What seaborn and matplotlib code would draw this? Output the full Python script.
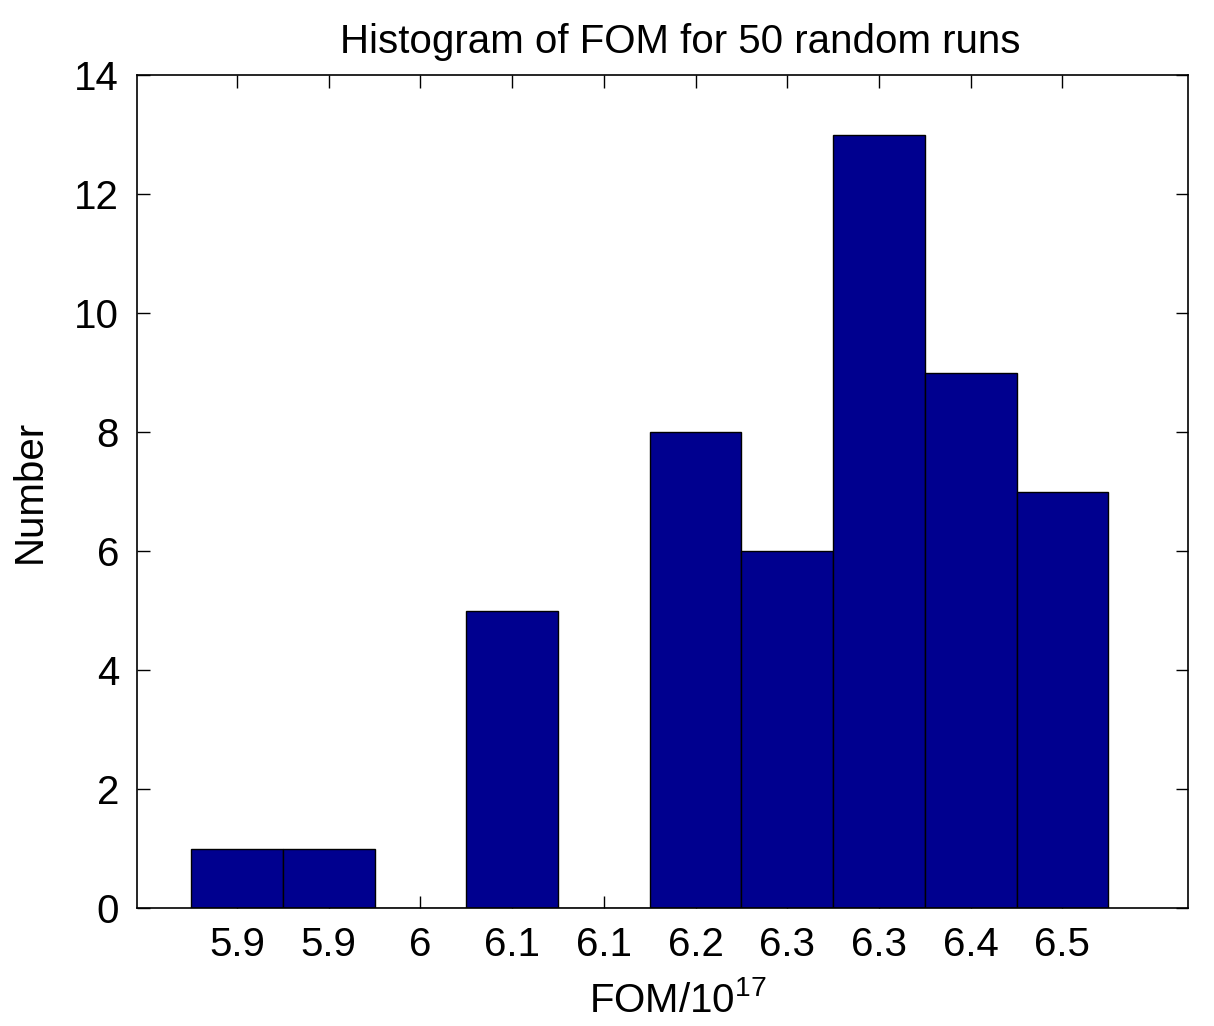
import seaborn as sns
import matplotlib.pyplot as plt
import numpy as np

# histogram bins (index) and counts
bin_index = [0, 1, 2, 3, 4, 5, 6, 7, 8, 9]
counts = [1, 1, 0, 5, 0, 8, 6, 13, 9, 7]
tick_labels = ["5.9", "5.9", "6", "6.1", "6.1", "6.2", "6.3", "6.3", "6.4", "6.5"]
y_ticks = [0, 2, 4, 6, 8, 10, 12, 14]

sns.set_style("ticks")
plt.rcParams['font.family'] = ['Liberation Sans', 'DejaVu Sans']
plt.rcParams['mathtext.fontset'] = 'custom'
plt.rcParams['mathtext.rm'] = 'Liberation Sans'
plt.rcParams['text.color'] = 'black'
plt.rcParams['axes.labelcolor'] = 'black'

fig = plt.figure(figsize=[12.14, 10.26], dpi=100)
ax = fig.add_axes([137 / 1214, 1 - 908 / 1026, (1188 - 137) / 1214, (908 - 75) / 1026])

sns.barplot(x=bin_index, y=counts, native_scale=True, width=1, color="#00008f",
            saturation=1, edgecolor="black", linewidth=1, ax=ax)

ax.set_xlim(-1.09, 10.37)
ax.set_ylim(0, 14)
ax.set_xticks(bin_index)
ax.set_xticklabels(tick_labels)
ax.set_yticks(y_ticks)
ax.tick_params(direction="in", length=9, width=1, top=True, right=True,
               labelsize=29, pad=13, colors="black")
for s in ax.spines.values():
    s.set_visible(True)
    s.set_linewidth(1.2)
    s.set_color("black")

ax.set_xlabel(r"FOM/10$^{17}$", fontsize=29, labelpad=12)
ax.xaxis.label.set_x(0.515)
ax.set_ylabel("Number", fontsize=29, labelpad=18)
ax.set_title("Histogram of FOM for 50 random runs", fontsize=29, pad=16, x=0.517)

plt.savefig("out.png", dpi=100)
